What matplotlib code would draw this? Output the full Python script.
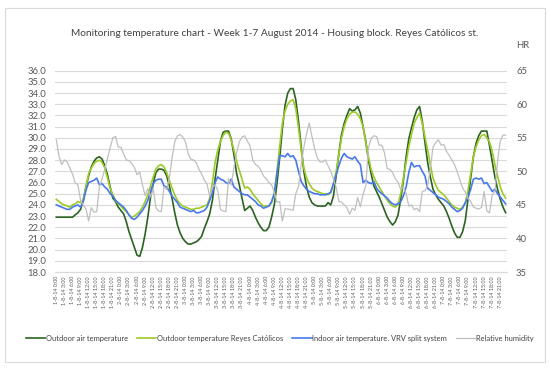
import matplotlib
matplotlib.use("Agg")
import matplotlib.pyplot as plt
from matplotlib.patches import Rectangle

plt.rcParams['font.family'] = ['Lato', 'DejaVu Sans']

# hourly readings, 1-8-14 0:00 .. 7-8-14 23:00 (one row per day)
outdoor_air = [
    22.9, 22.9, 22.9, 22.9, 22.9, 22.9, 22.9, 23.1, 23.3, 23.6, 24.4, 25.6, 26.6, 27.4, 27.9, 28.2, 28.3, 28.1, 27.5, 26.7, 25.6, 24.6, 24.3, 23.8,
    23.5, 23.2, 22.5, 21.6, 20.9, 20.2, 19.5, 19.4, 20.2, 21.4, 22.9, 24.7, 25.9, 26.9, 27.2, 27.2, 27.1, 26.6, 25.7, 24.6, 23.3, 22.2, 21.5, 21.0,
    20.7, 20.5, 20.5, 20.6, 20.7, 20.9, 21.2, 21.9, 22.5, 23.2, 24.4, 26.3, 28.0, 29.7, 30.5, 30.6, 30.6, 29.9, 28.5, 26.8, 25.8, 24.6, 23.5, 23.7,
    23.9, 23.5, 22.9, 22.4, 22.0, 21.7, 21.7, 22.0, 22.9, 24.0, 25.9, 28.2, 30.8, 32.9, 34.0, 34.4, 34.4, 33.4, 31.5, 29.2, 27.0, 25.6, 24.7, 24.2,
    24.0, 23.9, 23.9, 23.9, 23.9, 24.2, 24.0, 24.8, 26.6, 28.6, 30.3, 31.3, 32.0, 32.6, 32.4, 32.5, 32.8, 32.2, 31.0, 29.7, 28.0, 26.8, 25.7, 25.2,
    24.7, 24.1, 23.5, 22.9, 22.5, 22.2, 22.5, 23.1, 24.5, 26.2, 28.3, 29.9, 30.9, 31.8, 32.5, 32.8, 31.5, 29.6, 27.8, 26.5, 25.4, 24.9, 24.5, 24.2,
    23.9, 23.4, 22.8, 22.1, 21.5, 21.1, 21.1, 21.6, 22.6, 24.5, 26.4, 28.3, 29.5, 30.2, 30.6, 30.6, 30.6, 29.3, 27.9, 26.5, 25.4, 24.5, 23.8, 23.3,
]
outdoor_reyes = [
    24.5, 24.3, 24.1, 24.0, 23.9, 23.8, 24.0, 24.1, 24.3, 24.2, 24.5, 25.6, 26.8, 27.3, 27.7, 27.9, 28.0, 27.8, 27.3, 26.4, 25.5, 24.9, 24.4, 24.1,
    23.9, 23.6, 23.4, 23.1, 22.9, 23.0, 23.2, 23.4, 23.8, 24.3, 24.9, 25.7, 26.5, 27.2, 27.5, 27.6, 27.4, 26.9, 26.2, 25.5, 24.9, 24.4, 24.1, 23.9,
    23.8, 23.7, 23.6, 23.6, 23.7, 23.7, 23.8, 23.9, 24.0, 24.6, 26.0, 27.8, 28.9, 29.7, 30.2, 30.5, 30.4, 29.8, 28.9, 27.9, 27.1, 26.3, 25.5, 25.6,
    25.4, 25.0, 24.7, 24.4, 24.1, 23.9, 23.9, 23.9, 24.2, 25.0, 27.0, 29.2, 31.3, 32.4, 33.0, 33.3, 33.4, 32.6, 30.9, 28.9, 27.3, 26.4, 25.9, 25.5,
    25.3, 25.2, 25.1, 25.0, 25.0, 24.9, 25.2, 25.9, 27.0, 28.5, 30.0, 31.0, 31.7, 32.1, 32.3, 32.3, 32.1, 31.7, 31.0, 29.6, 28.3, 27.2, 26.5, 26.0,
    25.6, 25.2, 24.8, 24.4, 24.1, 23.9, 23.8, 24.1, 25.0, 26.4, 27.8, 29.2, 30.3, 31.3, 31.8, 32.2, 31.3, 30.1, 28.9, 27.6, 26.4, 25.8, 25.3, 25.1,
    24.9, 24.6, 24.3, 24.0, 23.8, 23.7, 23.6, 23.8, 24.2, 25.3, 26.8, 28.3, 29.2, 29.8, 30.2, 30.3, 30.0, 29.6, 28.8, 27.6, 26.6, 25.6, 25.0, 24.6,
]
indoor_vrv = [
    24.0, 23.9, 23.8, 23.7, 23.6, 23.6, 23.8, 23.9, 24.0, 23.8, 24.3, 25.3, 26.0, 26.1, 26.2, 26.4, 25.8, 25.9, 25.6, 25.4, 25.0, 24.8, 24.4, 24.2,
    24.0, 23.8, 23.5, 23.1, 22.8, 22.7, 22.9, 23.2, 23.5, 23.9, 24.4, 25.2, 25.9, 26.2, 26.3, 26.3, 25.7, 25.6, 25.2, 24.8, 24.5, 24.2, 23.8, 23.7,
    23.6, 23.5, 23.4, 23.5, 23.3, 23.3, 23.4, 23.5, 23.8, 24.4, 25.1, 26.0, 26.5, 26.3, 26.2, 26.0, 25.9, 26.3, 25.6, 25.4, 25.2, 25.0, 24.9, 24.9,
    24.7, 24.5, 24.3, 24.0, 23.9, 23.7, 23.8, 23.9, 24.3, 25.0, 26.8, 28.4, 28.4, 28.3, 28.6, 28.3, 28.4, 28.0, 27.0, 26.1, 25.7, 25.4, 25.2, 25.1,
    25.0, 25.0, 24.9, 24.9, 24.9, 25.0, 25.1, 25.9, 26.7, 27.5, 28.2, 28.6, 28.3, 28.2, 28.1, 28.3, 27.9, 27.6, 26.0, 26.2, 26.0, 25.9, 26.1, 25.5,
    25.2, 25.0, 24.8, 24.6, 24.3, 24.1, 24.0, 24.1, 24.3, 24.8, 25.6, 26.9, 27.8, 27.4, 27.5, 27.5, 27.0, 26.6, 25.5, 25.3, 25.1, 24.9, 24.7, 24.6,
    24.5, 24.3, 24.1, 23.8, 23.6, 23.4, 23.5, 23.7, 24.2, 24.7, 25.4, 26.3, 26.4, 26.3, 26.4, 25.9, 26.0, 25.6, 25.2, 25.4, 25.0, 24.7, 24.4, 24.1,
]
humidity = [
    54.7, 52.2, 51.0, 51.7, 51.4, 50.5, 49.6, 48.3, 48.0, 45.7, 45.0, 44.4, 42.6, 44.6, 43.9, 44.0, 47.7, 48.9, 50.3, 51.9, 53.5, 55.0, 55.2, 53.6,
    53.6, 52.6, 51.7, 51.6, 51.2, 50.6, 49.5, 49.9, 48.0, 46.4, 47.4, 46.2, 47.5, 44.6, 44.1, 44.0, 47.7, 47.3, 48.9, 52.0, 54.4, 55.3, 55.5, 55.1,
    54.4, 52.6, 51.8, 51.7, 51.3, 50.3, 49.6, 48.7, 48.1, 46.3, 47.6, 48.0, 47.2, 44.3, 44.1, 44.0, 48.9, 48.0, 50.5, 52.8, 54.4, 55.1, 55.3, 54.5,
    53.8, 51.7, 51.0, 50.8, 50.2, 49.3, 48.9, 48.3, 48.0, 46.9, 45.4, 45.5, 42.6, 44.4, 44.4, 44.3, 44.2, 46.7, 47.7, 51.0, 53.6, 55.6, 57.2, 55.2,
    53.4, 52.0, 51.4, 51.4, 51.7, 50.8, 50.0, 48.9, 47.6, 45.5, 45.4, 45.0, 44.6, 43.6, 44.5, 44.2, 46.1, 44.7, 46.6, 47.8, 53.5, 54.9, 55.3, 55.2,
    53.9, 53.9, 52.7, 50.4, 50.3, 49.8, 48.9, 48.4, 47.3, 47.6, 46.7, 44.8, 45.0, 44.3, 44.5, 44.0, 47.0, 47.1, 47.9, 50.4, 53.6, 54.3, 54.7, 53.9,
    54.0, 53.0, 52.4, 51.7, 51.0, 49.9, 48.7, 47.5, 46.9, 46.0, 45.5, 44.7, 44.5, 44.4, 44.6, 47.0, 44.1, 43.8, 46.5, 47.0, 51.5, 54.5, 55.4, 55.4,
]
days = ['1-8-14', '2-8-14', '3-8-14', '4-8-14', '5-8-14', '6-8-14', '7-8-14']
label_hours = ['0:00', '3:00', '6:00', '9:00', '12:00', '15:00', '18:00', '21:00']

labels = [d + ' ' + h for d in days for h in label_hours]
x = list(range(len(outdoor_air)))
text_col = '#595959'

fig = plt.figure(figsize=(5.5, 3.68), dpi=100)
fig.patches.append(Rectangle((5 / 550, 1 - 362 / 368), 540 / 550, 354 / 368,
                             transform=fig.transFigure, fill=False,
                             edgecolor='#d9d9d9', linewidth=0.8))

ax = fig.add_axes([55 / 550, 1 - 272 / 368, 452 / 550, 201.3 / 368])
ax2 = ax.twinx()

l1, = ax.plot(x, outdoor_air, color='#2b6321', lw=1.2, label='Outdoor air temperature')
l2, = ax.plot(x, outdoor_reyes, color='#9dcb26', lw=1.2, label='Outdoor temperature Reyes Católicos')
l3, = ax.plot(x, indoor_vrv, color='#4678ee', lw=1.2, label='Indoor air temperature. VRV split system')
l4, = ax2.plot(x, humidity, color='#bfbfbf', lw=0.9, label='Relative humidity')

ax.set_ylim(18, 36)
ax.set_yticks([18 + i for i in range(19)])
ax.set_yticklabels([f'{18 + i:.1f}' for i in range(19)])
ax2.set_ylim(35, 65)
ax2.set_yticks([35, 40, 45, 50, 55, 60, 65])
ax.set_xlim(-0.5, len(x) - 0.5)
ax.set_xticks(x[::3])
ax.set_xticklabels(labels, rotation=90, fontsize=3.9, color=text_col)

ax.grid(axis='y', color='#d9d9d9', lw=0.8)
ax.set_axisbelow(True)
for a in (ax, ax2):
    for s in a.spines.values():
        s.set_visible(False)
ax.spines['bottom'].set_visible(True)
ax.spines['bottom'].set_color('#d9d9d9')
ax.tick_params(axis='y', length=0, pad=6.5, labelsize=6.8, colors=text_col)
ax2.tick_params(axis='y', length=0, pad=6.5, labelsize=6.8, colors=text_col)
ax.tick_params(axis='x', length=0, pad=3, colors=text_col)

fig.text(0.5, 1 - 33 / 368, 'Monitoring temperature chart - Week 1-7 August 2014 - Housing block. Reyes Católicos st.',
         ha='center', va='center', fontsize=7.3, color='#404040')
fig.text(523 / 550, 1 - 46 / 368, 'HR', ha='center', va='center', fontsize=6.8, color=text_col)

fig.legend(handles=[l1, l2, l3, l4], loc='center left', bbox_to_anchor=(19 / 550, 1 - 338 / 368),
           ncol=4, frameon=False, fontsize=5.4, handlelength=2.6, handletextpad=0.1,
           columnspacing=1.15, labelcolor='#404040')

fig.savefig('out.png', dpi=100)
